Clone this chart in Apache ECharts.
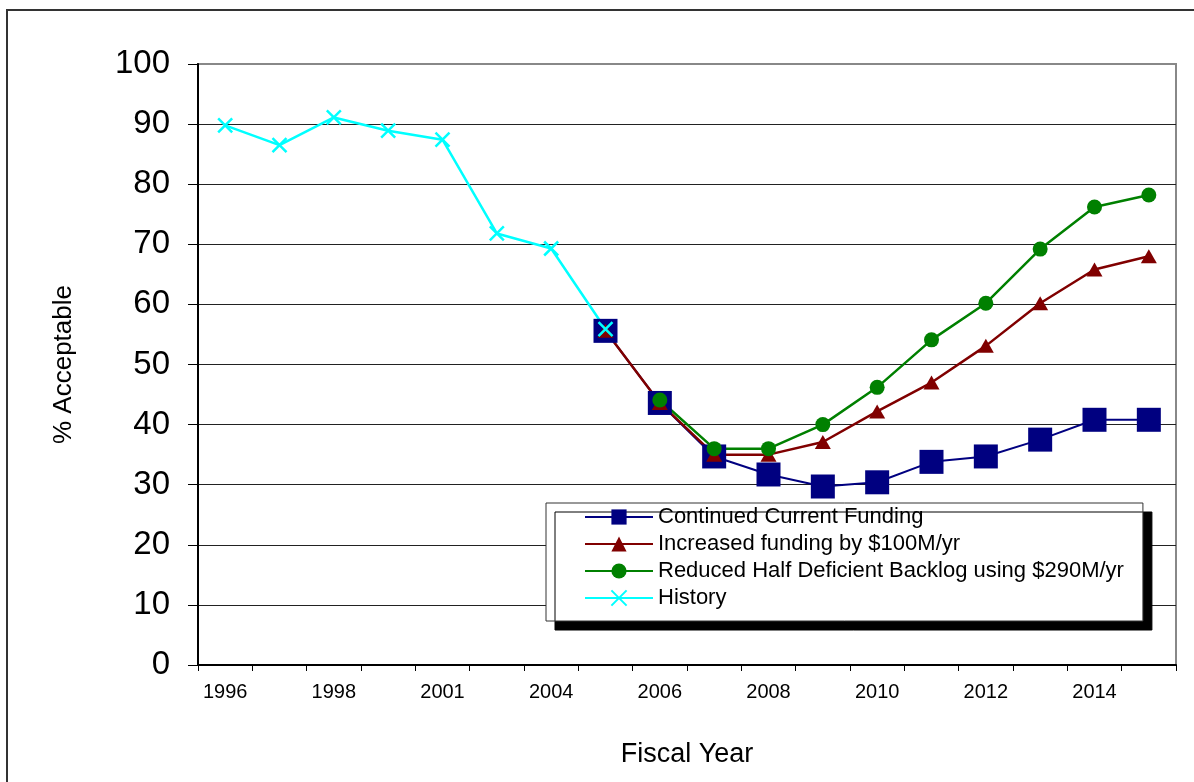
<!DOCTYPE html>
<html>
<head>
<meta charset="utf-8">
<script src="https://cdn.jsdelivr.net/npm/echarts@6/dist/echarts.min.js"></script>
<style>
html,body{margin:0;padding:0;background:#fff;}
#main{width:1194px;height:782px;}
</style>
</head>
<body>
<div id="main"></div>
<script>
var categories = ["1996","1997","1998","1999","2001","2002","2004","2005","2006","2007","2008","2009","2010","2011","2012","2013","2014","2015"];
var continuedFunding = [null,null,null,null,null,null,null,55.6,43.6,34.7,31.7,29.7,30.4,33.8,34.7,37.5,40.8,40.8];
var increasedFunding = [null,null,null,null,null,null,null,55.6,43.6,35.0,35.0,37.1,42.2,47.0,53.1,60.2,65.8,68.0];
var reducedBacklog = [null,null,null,null,null,null,null,null,44.1,36.0,36.0,40.0,46.2,54.1,60.2,69.2,76.2,78.2];
var historyValues = [89.8,86.5,91.1,88.9,87.4,71.8,69.3,55.9,null,null,null,null,null,null,null,null,null,null];
var yTicks = {min:0, max:100, interval:10};

var FONT = '"Liberation Sans", Arial, sans-serif';
var chart = echarts.init(document.getElementById('main'), null, {renderer:'canvas'});
chart.setOption({
  backgroundColor:'#fff',
  animation:false,
  textStyle:{fontFamily:FONT},
  graphic:[{
    type:'rect', z:-10, silent:true,
    shape:{x:7,y:10,width:1250,height:820},
    style:{fill:null,stroke:'#333',lineWidth:2}
  }],
  grid:{left:198,right:18,top:64,bottom:117,show:true,borderColor:'#888',borderWidth:2,backgroundColor:'#fff'},
  legend:{
    orient:'vertical',
    left:546, top:503,
    padding:[3,19,12,38],
    itemGap:5,
    itemWidth:68, itemHeight:19,
    backgroundColor:'#fff',
    borderColor:'#333', borderWidth:1,
    shadowColor:'#000', shadowOffsetX:9, shadowOffsetY:9, shadowBlur:0,
    textStyle:{fontSize:22,color:'#000',fontFamily:FONT},
    data:['Continued Current Funding','Increased funding by $100M/yr','Reduced Half Deficient Backlog using $290M/yr','History']
  },
  xAxis:{
    type:'category',
    data:categories,
    boundaryGap:true,
    name:'Fiscal Year',
    nameLocation:'middle',
    nameGap:76,
    nameTextStyle:{fontSize:27,color:'#000',fontFamily:FONT},
    axisLine:{lineStyle:{color:'#000',width:2}},
    axisTick:{show:true,interval:0,length:6,lineStyle:{color:'#000',width:1}},
    axisLabel:{interval:1,fontSize:20,color:'#000',margin:17,fontFamily:FONT},
    splitLine:{show:false}
  },
  yAxis:{
    type:'value',
    min:yTicks.min, max:yTicks.max, interval:yTicks.interval,
    name:'% Acceptable',
    nameLocation:'middle',
    nameGap:121,
    nameRotate:90,
    nameTextStyle:{fontSize:26,color:'#000',fontFamily:FONT},
    axisLine:{show:true,lineStyle:{color:'#000',width:2}},
    axisTick:{show:true,length:10,lineStyle:{color:'#000',width:1}},
    axisLabel:{fontSize:33,color:'#000',margin:28,fontFamily:FONT},
    splitLine:{show:true,showMaxLine:false,lineStyle:{color:'#222',width:1}}
  },
  series:[
    {
      name:'Continued Current Funding', type:'line', data:continuedFunding,
      symbol:'rect', symbolSize:24,
      lineStyle:{color:'#000080',width:2},
      itemStyle:{color:'#000080',borderWidth:0}
    },
    {
      name:'Increased funding by $100M/yr', type:'line', data:increasedFunding,
      symbol:'triangle', symbolSize:[16,14],
      lineStyle:{color:'#800000',width:2.5},
      itemStyle:{color:'#800000',borderWidth:0}
    },
    {
      name:'Reduced Half Deficient Backlog using $290M/yr', type:'line', data:reducedBacklog,
      symbol:'circle', symbolSize:15,
      lineStyle:{color:'#008000',width:2.5},
      itemStyle:{color:'#008000',borderWidth:0}
    },
    {
      name:'History', type:'line', data:historyValues,
      symbol:'path://M0,0L10,10M10,0L0,10', symbolSize:14,
      lineStyle:{color:'#00FFFF',width:2.5},
      itemStyle:{color:'rgba(0,0,0,0)',borderColor:'#00FFFF',borderWidth:2.5}
    }
  ]
});
</script>
</body>
</html>
